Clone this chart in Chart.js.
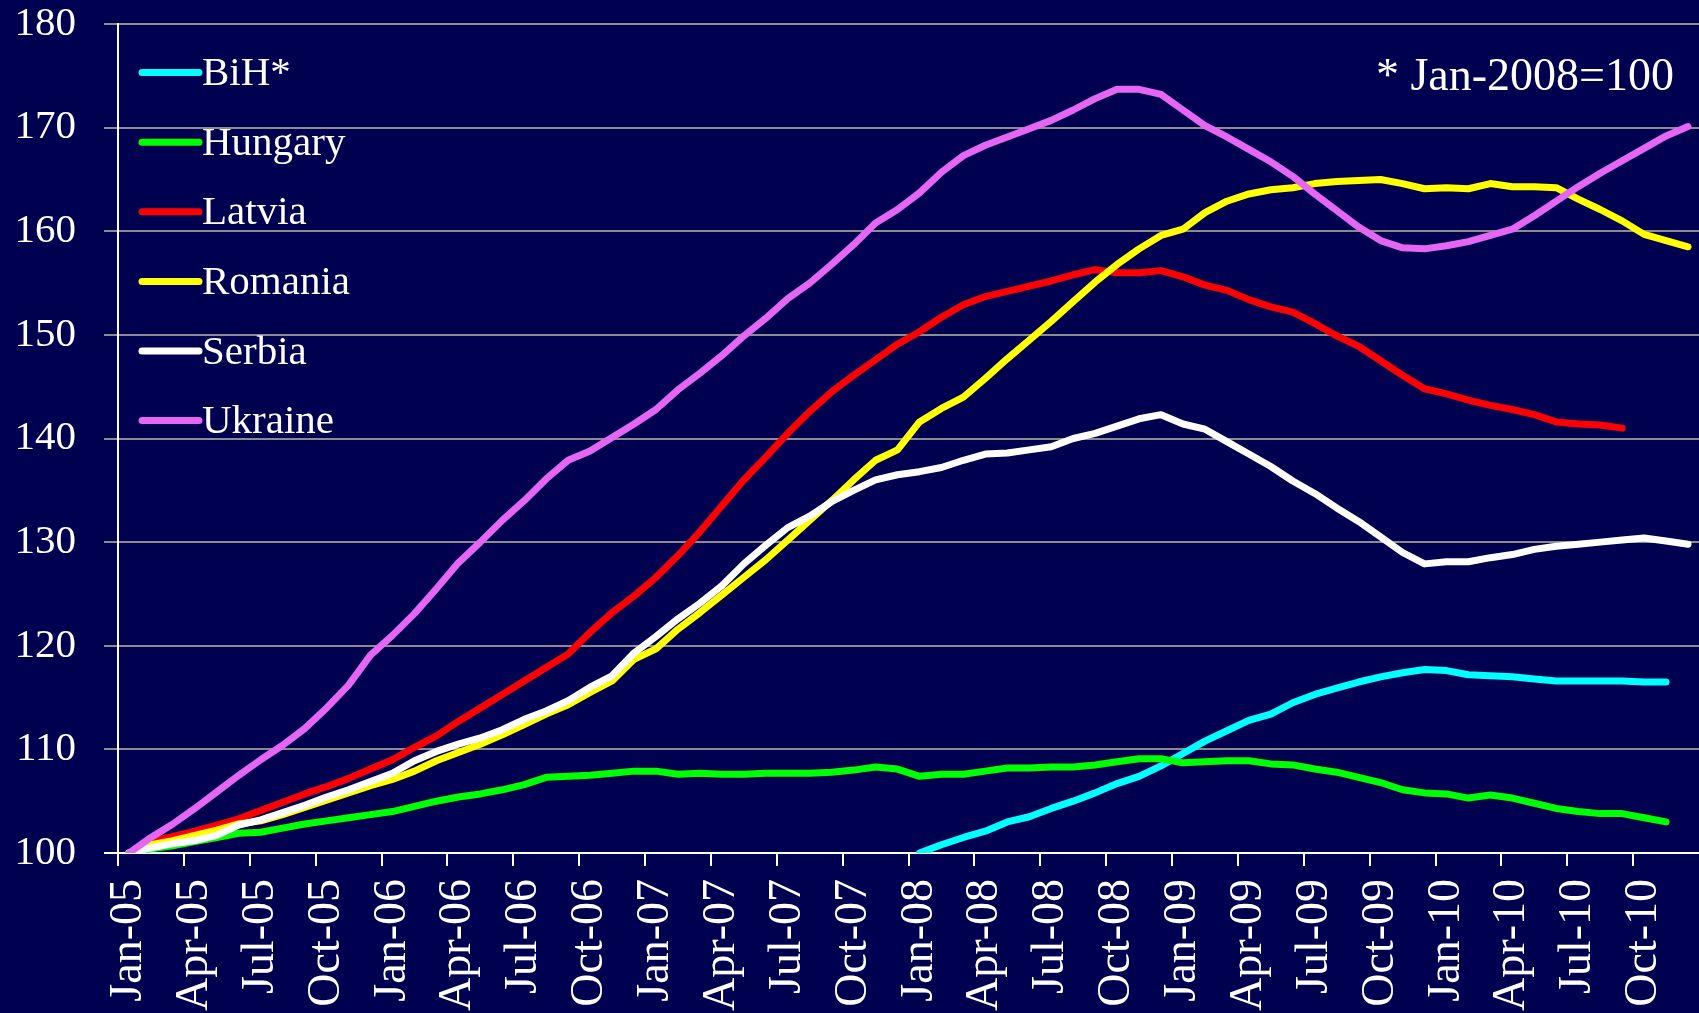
<!DOCTYPE html>
<html><head><meta charset="utf-8">
<script src="https://cdn.jsdelivr.net/npm/chart.js@4/dist/chart.umd.min.js"></script>
<style>html,body{margin:0;padding:0;background:#000050;overflow:hidden}canvas{display:block}</style>
</head><body>
<canvas id="c" width="1699" height="1013"></canvas>
<script>
const monthNames = ['Jan','Feb','Mar','Apr','May','Jun','Jul','Aug','Sep','Oct','Nov','Dec'];
const yearCodes = ['05','06','07','08','09','10'];
const categories = [];
for (const y of yearCodes) for (const m of monthNames) categories.push(m + '-' + y);

const seriesNames = ['BiH*','Hungary','Latvia','Romania','Serbia','Ukraine'];
const seriesColors = ['#00FFFF','#00FF00','#FF0000','#FFFF00','#FFFFFF','#E466F2'];

const bih = [null,null,null,null,null,null,null,null,null,null,null,null,
  null,null,null,null,null,null,null,null,null,null,null,null,
  null,null,null,null,null,null,null,null,null,null,null,null,
  100,100.8,101.5,102.1,103.0,103.5,104.3,105.0,105.8,106.7,107.4,108.4,
  109.6,110.8,111.8,112.8,113.4,114.5,115.3,115.9,116.5,117.0,117.4,117.7,
  117.6,117.2,117.1,117.0,116.8,116.6,116.6,116.6,116.6,116.5,116.5,null];
const hungary = [100,100.4,100.7,101.1,101.5,101.9,102.0,102.4,102.8,103.1,103.4,103.7,
  104.0,104.5,105.0,105.4,105.7,106.1,106.6,107.3,107.4,107.5,107.7,107.9,
  107.9,107.6,107.7,107.6,107.6,107.7,107.7,107.7,107.8,108.0,108.3,108.1,
  107.4,107.6,107.6,107.9,108.2,108.2,108.3,108.3,108.5,108.8,109.1,109.1,
  108.7,108.8,108.9,108.9,108.6,108.5,108.1,107.8,107.3,106.8,106.1,105.8,
  105.7,105.3,105.6,105.3,104.8,104.3,104.0,103.8,103.8,103.4,103.0,null];
const latvia = [100,101.1,101.6,102.1,102.7,103.3,104.1,104.9,105.7,106.4,107.2,108.1,
  109.0,110.2,111.3,112.7,114.0,115.3,116.6,117.9,119.2,121.3,123.2,124.8,
  126.6,128.7,131.0,133.5,136.0,138.2,140.5,142.6,144.5,146.1,147.6,149.1,
  150.3,151.7,152.9,153.7,154.2,154.7,155.2,155.8,156.3,156.0,156.0,156.2,
  155.6,154.8,154.3,153.4,152.7,152.2,151.1,149.9,148.9,147.5,146.1,144.8,
  144.3,143.7,143.2,142.8,142.3,141.6,141.4,141.3,141.0,null,null,null];
const romania = [100,100.8,101.2,101.7,102.2,102.8,103.1,103.7,104.4,105.1,105.8,106.5,
  107.1,107.9,108.9,109.7,110.5,111.4,112.4,113.4,114.3,115.5,116.6,118.7,
  119.7,121.6,123.2,124.9,126.6,128.3,130.2,132.1,134.0,136.0,137.9,138.9,
  141.6,142.9,144.0,145.8,147.7,149.5,151.3,153.2,155.1,156.8,158.3,159.6,
  160.2,161.8,162.9,163.6,164.0,164.2,164.6,164.8,164.9,165.0,164.6,164.1,
  164.2,164.1,164.6,164.3,164.3,164.2,163.1,162.1,161.0,159.7,159.1,158.5];
const serbia = [100,100.5,100.9,101.2,101.7,102.7,103.2,103.9,104.6,105.4,106.1,106.9,
  107.7,108.9,109.8,110.5,111.1,111.9,112.9,113.7,114.7,116.0,117.1,119.3,
  120.9,122.6,124.1,125.8,127.9,129.7,131.4,132.5,133.9,135.0,136.0,136.5,
  136.8,137.2,137.9,138.5,138.6,138.9,139.2,140.0,140.5,141.2,141.9,142.3,
  141.4,140.9,139.7,138.5,137.3,135.9,134.7,133.3,132.0,130.5,129.0,127.9,
  128.1,128.1,128.5,128.8,129.3,129.6,129.8,130.0,130.2,130.4,130.1,129.8];
const ukraine = [100,101.5,102.8,104.3,105.9,107.5,109.0,110.4,112.0,114.0,116.2,119.1,
  121.0,123.1,125.5,128.0,130.0,132.1,134.0,136.1,137.9,138.8,140.1,141.4,
  142.8,144.7,146.3,148.0,149.9,151.6,153.5,155.0,156.8,158.7,160.8,162.1,
  163.7,165.7,167.3,168.3,169.1,169.9,170.7,171.7,172.8,173.7,173.7,173.2,
  171.7,170.2,169.1,167.9,166.7,165.3,163.6,162.0,160.4,159.1,158.4,158.3,
  158.6,159.0,159.6,160.2,161.5,162.9,164.3,165.6,166.8,168.0,169.2,170.1];

const seriesData = [bih, hungary, latvia, romania, serbia, ukraine];
const noteText = '* Jan-2008=100';
const FONT = "'Liberation Serif', 'DejaVu Serif', serif";

const bgPlugin = {
  id: 'bg',
  beforeDraw(chart) {
    const ctx = chart.ctx;
    ctx.save();
    ctx.fillStyle = '#000050';
    ctx.fillRect(0, 0, chart.width, chart.height);
    ctx.restore();
  }
};

const legendPlugin = {
  id: 'customLegend',
  afterDraw(chart) {
    const ctx = chart.ctx;
    ctx.save();
    const x0 = 142, x1 = 199, tx = 202, y0 = 72.6, dy = 69.6;
    chart.data.datasets.forEach((ds, k) => {
      const y = y0 + k * dy;
      ctx.strokeStyle = ds.borderColor;
      ctx.lineWidth = 7;
      ctx.lineCap = 'round';
      ctx.beginPath();
      ctx.moveTo(x0, y);
      ctx.lineTo(x1, y);
      ctx.stroke();
      ctx.fillStyle = '#FFFFFF';
      ctx.font = '41px ' + FONT;
      ctx.textAlign = 'left';
      ctx.textBaseline = 'alphabetic';
      ctx.fillText(ds.label, tx, y + 12.5);
    });
    ctx.font = '46px ' + FONT;
    ctx.textAlign = 'right';
    ctx.fillStyle = '#FFFFFF';
    ctx.fillText(noteText, 1674, 90);
    ctx.restore();
  }
};

const datasets = seriesNames.map((name, k) => ({
  label: name,
  data: seriesData[k],
  borderColor: seriesColors[k],
  backgroundColor: seriesColors[k],
  borderWidth: 7,
  pointRadius: 0,
  pointHoverRadius: 0,
  tension: 0,
  fill: false,
  borderCapStyle: 'round',
  borderJoinStyle: 'round',
  order: seriesNames.length - 1 - k
}));

new Chart(document.getElementById('c'), {
  type: 'line',
  data: { labels: categories, datasets },
  plugins: [bgPlugin, legendPlugin],
  options: {
    responsive: false,
    animation: false,
    devicePixelRatio: 1,
    layout: { padding: { top: 24, left: 0, right: 0, bottom: 0 } },
    plugins: { legend: { display: false }, tooltip: { enabled: false } },
    scales: {
      x: {
        type: 'category',
        offset: true,
        grid: {
          offset: true,
          drawOnChartArea: false,
          drawTicks: true,
          tickLength: 13,
          lineWidth: 2,
          color: (c) => (c.index % 3 === 0 ? '#FFFFFF' : 'rgba(0,0,0,0)')
        },
        border: { display: true, color: '#FFFFFF', width: 2 },
        ticks: {
          autoSkip: false,
          maxRotation: 90,
          minRotation: 90,
          padding: 13,
          color: '#FFFFFF',
          font: { family: FONT, size: 46 },
          callback: (v, i) => (i % 3 === 0 ? categories[i] : '')
        },
        afterFit(scale) { scale.height = 160; scale.paddingLeft = 0; scale.paddingRight = 0; }
      },
      y: {
        min: 100,
        max: 180,
        grid: {
          color: (c) => (c.tick && c.tick.value === 100 ? '#FFFFFF' : '#8C8C8C'),
          lineWidth: 2,
          tickLength: 14,
          drawTicks: true
        },
        border: { display: true, color: '#FFFFFF', width: 2 },
        ticks: {
          stepSize: 10,
          padding: 28,
          color: '#FFFFFF',
          font: { family: FONT, size: 41 }
        },
        afterFit(scale) { scale.width = 118; scale.paddingTop = 0; scale.paddingBottom = 0; }
      }
    }
  }
});
</script>
</body></html>
